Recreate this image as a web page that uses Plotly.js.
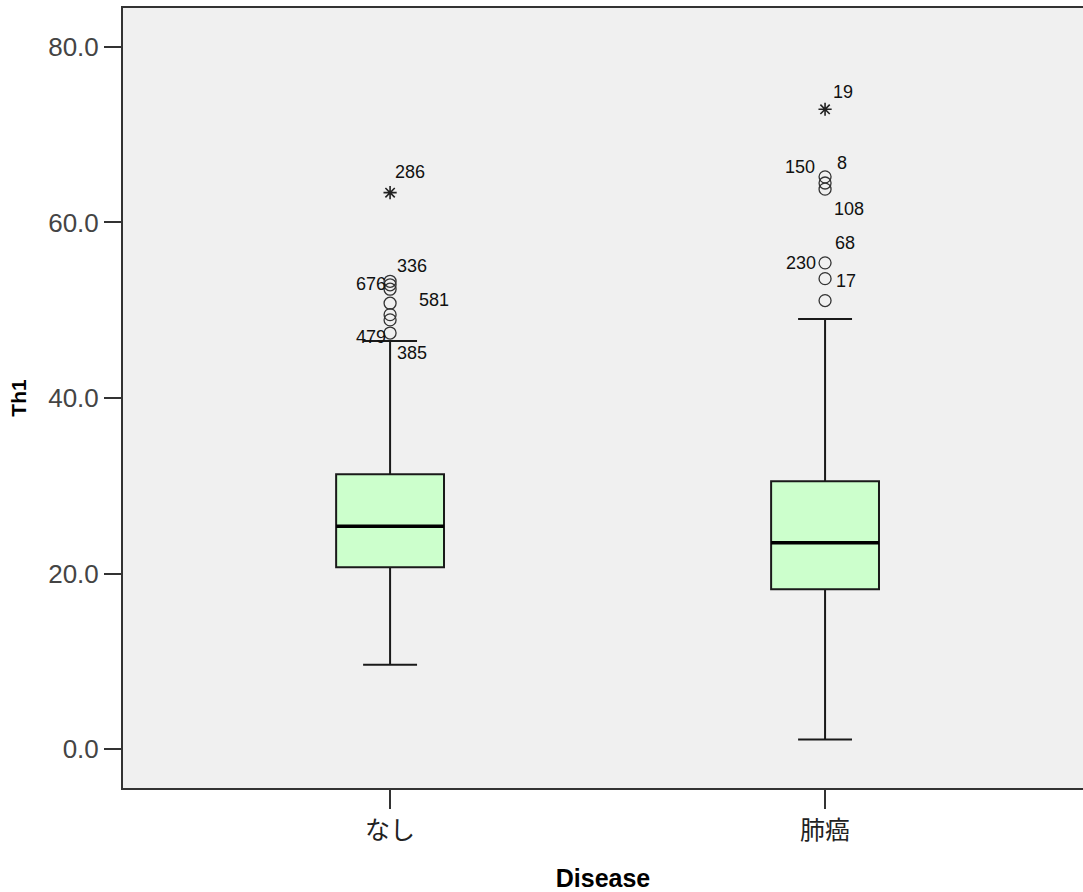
<!DOCTYPE html>
<html>
<head>
<meta charset="utf-8">
<script src="https://cdn.plot.ly/plotly-3.0.1.min.js"></script>
<style>html,body{margin:0;padding:0;background:#fff;}#chart{width:1083px;height:892px;}</style>
</head>
<body>
<div id="chart"></div>
<script>
// ---- data ----
const groups = ['なし', '肺癌'];
const q1 = [20.7, 18.2];
const median = [25.4, 23.5];
const q3 = [31.3, 30.5];
const lowerWhisker = [9.6, 1.1];
const upperWhisker = [46.5, 49.0];

// outliers (circles) and extremes (asterisks): group index + value
const outlierGroup = [0, 0, 0, 0, 0, 0, 0, 1, 1, 1, 1, 1, 1];
const outlierValue = [53.3, 52.9, 52.4, 50.8, 49.5, 48.9, 47.4, 65.2, 64.5, 63.8, 55.4, 53.6, 51.1];
const extremeGroup = [0, 1];
const extremeValue = [63.4, 72.9];

// case labels: text, group index, value of the point they belong to
const labelText  = ['286', '336', '676', '581', '479', '385', '19', '150', '8', '108', '68', '230', '17'];
const labelGroup = [0, 0, 0, 0, 0, 0, 1, 1, 1, 1, 1, 1, 1];
const labelValue = [63.4, 53.3, 52.9, 50.8, 47.4, 47.4, 72.9, 65.2, 65.2, 63.8, 55.4, 55.4, 53.6];
// label placement (style): anchor side, x shift px, y shift px
const labelSide  = ['left', 'left', 'right', 'left', 'right', 'left', 'left', 'right', 'left', 'left', 'left', 'right', 'left'];
const labelDx    = [3, 5, -2, 27, -2, 5, 6, -8, 10, 7, 8, -7, 9];
const labelDy    = [21, 15, 1, 3, -4, -20, 17, 10, 14, -20, 20, 0, -2];

const boxWidth = 0.248;
const xIdx = groups.map((g, i) => i);

const traces = [];
traces.push({
  type: 'box',
  x: xIdx,
  q1: q1, median: median, q3: q3,
  lowerfence: lowerWhisker, upperfence: upperWhisker,
  boxpoints: false,
  width: boxWidth,
  whiskerwidth: 0.5,
  fillcolor: '#ccffcc',
  line: {color: '#1a1a1a', width: 2},
  hoverinfo: 'skip',
  showlegend: false
});
// thick median lines
xIdx.forEach(i => {
  traces.push({
    type: 'scatter', mode: 'lines',
    x: [i - boxWidth / 2, i + boxWidth / 2],
    y: [median[i], median[i]],
    line: {color: '#000000', width: 3.5},
    hoverinfo: 'skip', showlegend: false
  });
});
traces.push({
  type: 'scatter', mode: 'markers',
  x: outlierGroup, y: outlierValue,
  marker: {symbol: 'circle-open', size: 12, color: '#333333', line: {width: 1.3, color: '#333333'}},
  hoverinfo: 'skip', showlegend: false
});
traces.push({
  type: 'scatter', mode: 'markers',
  x: extremeGroup, y: extremeValue,
  marker: {symbol: 'asterisk-open', size: 11, color: '#222222', line: {width: 1.6, color: '#222222'}},
  hoverinfo: 'skip', showlegend: false
});

const annotations = labelText.map((t, k) => ({
  x: labelGroup[k], y: labelValue[k], xref: 'x', yref: 'y',
  text: t, showarrow: false,
  xanchor: labelSide[k], yanchor: 'middle',
  xshift: labelDx[k], yshift: labelDy[k],
  font: {family: 'Liberation Sans, Arial, sans-serif', size: 18, color: '#111111'}
}));

const layout = {
  width: 1083, height: 892,
  margin: {l: 123, r: 0, t: 8, b: 104},
  paper_bgcolor: '#ffffff',
  plot_bgcolor: '#f0f0f0',
  showlegend: false,
  xaxis: {
    range: [-0.614, 1.593],
    tickvals: xIdx, ticktext: groups,
    ticks: 'outside', ticklen: 19, tickwidth: 2, tickcolor: '#333333',
    showline: true, linecolor: '#333333', linewidth: 2, mirror: true,
    showgrid: false, zeroline: false,
    tickfont: {family: 'Noto Sans CJK JP, sans-serif', size: 25, color: '#222222'},
    title: {text: '<b>Disease</b>', standoff: 24,
            font: {family: 'Liberation Sans, Arial, sans-serif', size: 25, color: '#000000'}}
  },
  yaxis: {
    range: [-4.44, 84.44],
    tickvals: [0, 20, 40, 60, 80], tickformat: '.1f',
    ticks: 'outside', ticklen: 17, tickwidth: 2, tickcolor: '#333333',
    showline: true, linecolor: '#333333', linewidth: 2,
    showgrid: false, zeroline: false,
    tickfont: {family: 'Liberation Sans, Arial, sans-serif', size: 26, color: '#444444'},
    title: {text: '<b>Th1</b>', standoff: 16,
            font: {family: 'Liberation Sans, Arial, sans-serif', size: 21, color: '#000000'}}
  },
  annotations: annotations
};

Plotly.newPlot('chart', traces, layout, {staticPlot: true, displayModeBar: false});
</script>
</body>
</html>
